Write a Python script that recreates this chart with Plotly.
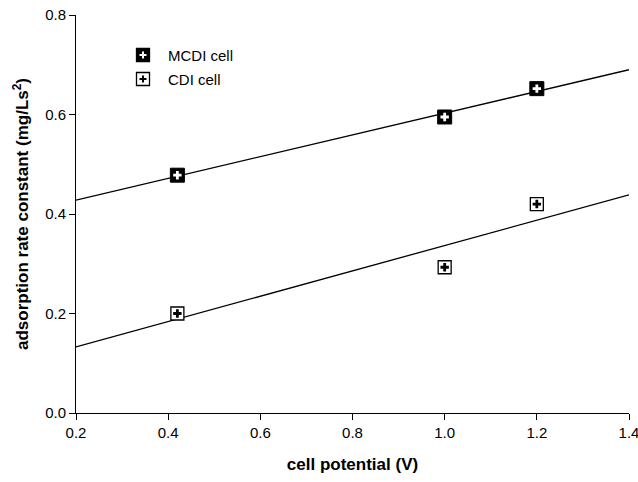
import numpy as np
import plotly.graph_objects as go

# Data
cell_potential = [0.42, 1.0, 1.2]
mcdi_rate = [0.478, 0.595, 0.652]
cdi_rate = [0.200, 0.293, 0.420]
series_names = ["MCDI cell", "CDI cell"]
x_ticks = [0.2, 0.4, 0.6, 0.8, 1.0, 1.2, 1.4]
y_ticks = [0.0, 0.2, 0.4, 0.6, 0.8]

fit_x = np.array([0.2, 1.4])
m1 = np.polyfit(cell_potential, mcdi_rate, 1)
m2 = np.polyfit(cell_potential, cdi_rate, 1)

fig = go.Figure()
for coef in (m1, m2):
    fig.add_trace(go.Scatter(x=fit_x, y=np.polyval(coef, fit_x), mode="lines",
                             line=dict(color="black", width=1.3), showlegend=False,
                             hoverinfo="skip", cliponaxis=False))

# MCDI markers
fig.add_trace(go.Scatter(x=cell_potential, y=mcdi_rate, mode="markers", name=series_names[0],
                         marker=dict(symbol="square", size=14, color="black",
                                     line=dict(color="black", width=1)), showlegend=False))
fig.add_trace(go.Scatter(x=cell_potential, y=mcdi_rate, mode="markers",
                         marker=dict(symbol="cross", size=7, color="white",
                                     line=dict(width=0)), showlegend=False, hoverinfo="skip"))
# CDI markers
fig.add_trace(go.Scatter(x=cell_potential, y=cdi_rate, mode="markers", name=series_names[1],
                         marker=dict(symbol="square", size=13, color="white",
                                     line=dict(color="black", width=1.3)), showlegend=False))
fig.add_trace(go.Scatter(x=cell_potential, y=cdi_rate, mode="markers",
                         marker=dict(symbol="cross", size=7, color="black",
                                     line=dict(width=0)), showlegend=False, hoverinfo="skip"))

# Manual legend
shapes = []
annotations = []
leg_x = (143 - 76) / 553
for i, (name, fill, crossc) in enumerate([(series_names[0], "black", "white"),
                                            (series_names[1], "white", "black")]):
    cy = (413 - (55 + 24 * i)) / 398
    shapes.append(dict(type="rect", xref="paper", yref="paper", xsizemode="pixel",
                       ysizemode="pixel", xanchor=leg_x, yanchor=cy,
                       x0=-6.5, x1=6.5, y0=-6.5, y1=6.5, fillcolor=fill,
                       line=dict(color="black", width=1.3)))
    shapes.append(dict(type="rect", xref="paper", yref="paper", xsizemode="pixel",
                       ysizemode="pixel", xanchor=leg_x, yanchor=cy,
                       x0=-3.5, x1=3.5, y0=-1, y1=1, fillcolor=crossc, line=dict(width=0)))
    shapes.append(dict(type="rect", xref="paper", yref="paper", xsizemode="pixel",
                       ysizemode="pixel", xanchor=leg_x, yanchor=cy,
                       x0=-1, x1=1, y0=-3.5, y1=3.5, fillcolor=crossc, line=dict(width=0)))
    annotations.append(dict(xref="paper", yref="paper", x=(166 - 76) / 553, y=cy,
                            xanchor="left", yanchor="middle", text=name, showarrow=False,
                            font=dict(size=15, color="black")))

fig.update_layout(
    width=638, height=482,
    margin=dict(l=76, r=9, t=15, b=69),
    paper_bgcolor="white", plot_bgcolor="white",
    font=dict(family="Liberation Sans, Arial, sans-serif", size=15, color="black"),
    shapes=shapes, annotations=annotations,
    xaxis=dict(range=[0.2, 1.4], tickvals=x_ticks, tickformat=".1f", ticks="outside",
               ticklen=6, tickwidth=1, tickcolor="black", showline=True, linecolor="black",
               linewidth=1, showgrid=False, zeroline=False, automargin=False,
               ticklabeloverflow="allow",
               title=dict(text="<b>cell potential (V)</b>", font=dict(size=17), standoff=18)),
    yaxis=dict(range=[0, 0.8], tickvals=y_ticks, tickformat=".1f", ticks="outside",
               ticklen=6, tickwidth=1, tickcolor="black", showline=True, linecolor="black",
               linewidth=1, showgrid=False, zeroline=False, automargin=False,
               ticklabeloverflow="allow",
               title=dict(text="<b>adsorption rate constant (mg/Ls<sup>2</sup>)</b>",
                          font=dict(size=17), standoff=12)),
)

fig.write_html("out.html", config={"displayModeBar": False},
               post_script="document.body.style.margin='0';document.body.style.overflow='hidden';")
